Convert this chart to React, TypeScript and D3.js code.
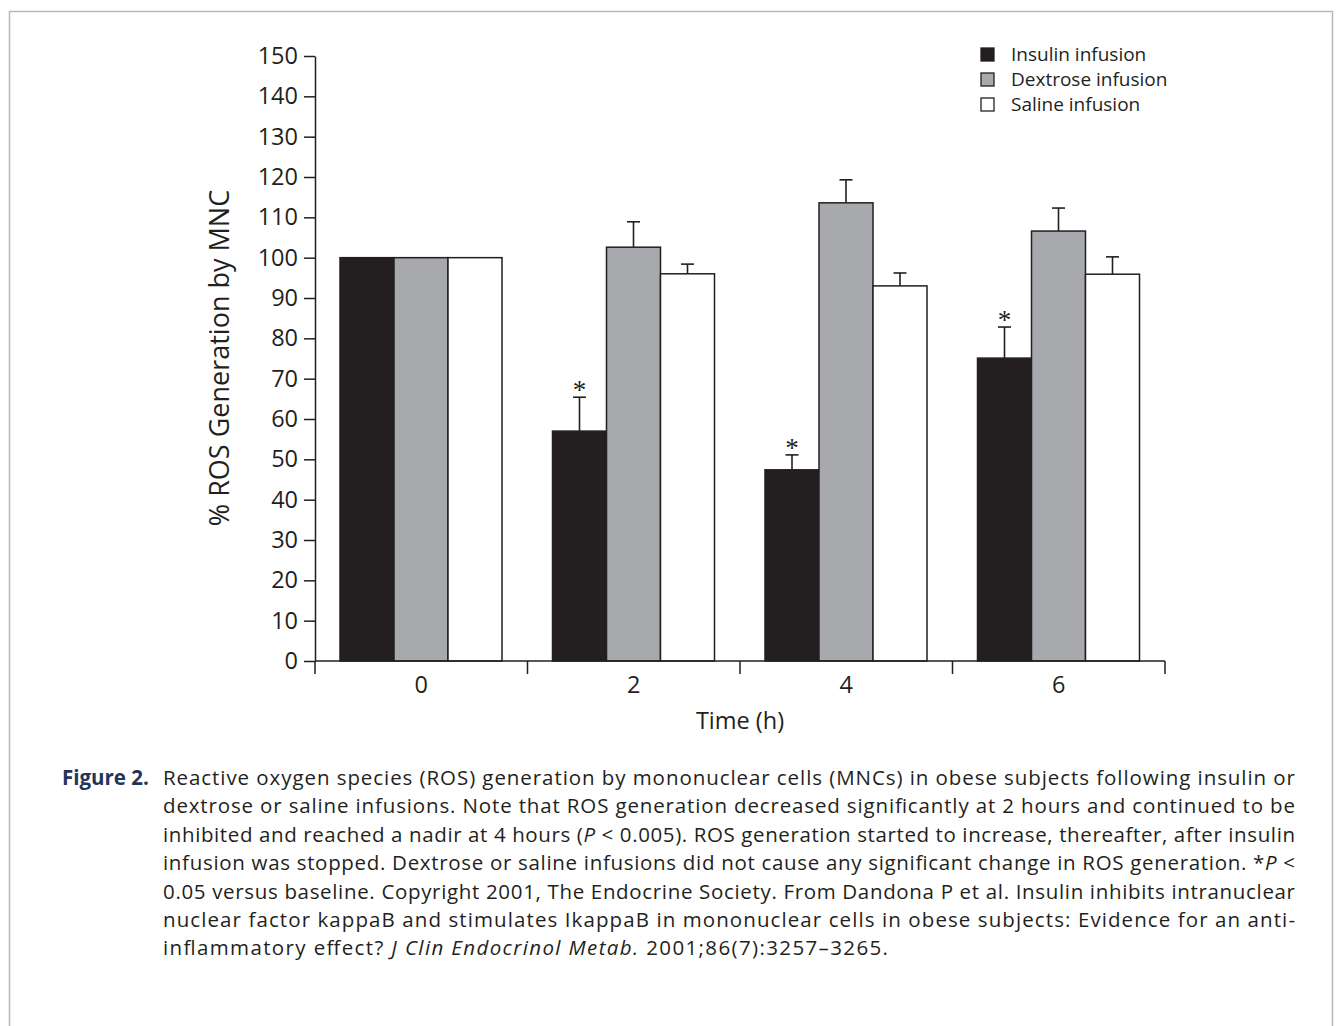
import React, { useEffect, useRef } from "react";
import * as d3 from "d3";

// values
const times = ["0", "2", "4", "6"];
const seriesNames = ["Insulin infusion", "Dextrose infusion", "Saline infusion"];
const insulin = [100, 57, 47.4, 75.1];
const insulinErr = [0, 8.4, 3.7, 7.7];
const dextrose = [100, 102.6, 113.6, 106.6];
const dextroseErr = [0, 6.3, 5.7, 5.7];
const saline = [100, 96, 93, 95.9];
const salineErr = [0, 2.4, 3.2, 4.3];
const insulinSig = [false, true, true, true];
const yTicks = d3.range(0, 151, 10);

const fills = ["#231f20", "#a7a9ac", "#ffffff"];
const ink = "#231f20";
const font = "'Open Sans', 'Noto Sans', sans-serif";

const captionLines = [
  [{ t: "Reactive oxygen species (ROS) generation by mononuclear cells (MNCs) in obese subjects following insulin or" }],
  [{ t: "dextrose or saline infusions. Note that ROS generation decreased significantly at 2 hours and continued to be" }],
  [
    { t: "inhibited and reached a nadir at 4 hours (" },
    { t: "P", i: true },
    { t: " < 0.005). ROS generation started to increase, thereafter, after insulin" },
  ],
  [
    { t: "infusion was stopped. Dextrose or saline infusions did not cause any significant change in ROS generation. *" },
    { t: "P", i: true },
    { t: " <" },
  ],
  [{ t: "0.05 versus baseline. Copyright 2001, The Endocrine Society. From Dandona P et al. Insulin inhibits intranuclear" }],
  [{ t: "nuclear factor kappaB and stimulates IkappaB in mononuclear cells in obese subjects: Evidence for an anti-" }],
  [
    { t: "inflammatory effect? " },
    { t: "J Clin Endocrinol Metab.", i: true },
    { t: " 2001;86(7):3257–3265." },
  ],
];
// justified line widths (last line is ragged)
const captionWidths = [1132, 1132, 1132, 1132, 1132, 1132, 725];

const W = 1337;
const H = 1026;

const App = () => {
  const svgRef = useRef<SVGSVGElement>(null);

  useEffect(() => {
    const svg = d3.select(svgRef.current);
    svg.selectAll("*").remove();

    // frame around figure
    svg.append("rect")
      .attr("x", 9.5).attr("y", 11.5)
      .attr("width", 1323).attr("height", 1030)
      .attr("fill", "none").attr("stroke", "#b8b8b8").attr("stroke-width", 1.5);

    const y = d3.scaleLinear().domain([0, 150]).range([661, 56]);
    const x0 = d3.scaleBand().domain(times).range([315, 1165]).padding(0);
    const x1 = d3.scaleBand().domain(seriesNames).range([25, 187]).padding(0);

    const values = [insulin, dextrose, saline];
    const errs = [insulinErr, dextroseErr, salineErr];

    const rows = times.flatMap((t, i) =>
      seriesNames.map((s, k) => ({ t, s, k, v: values[k][i], e: errs[k][i], sig: k === 0 && insulinSig[i] }))
    );
    const cx = (d: any) => x0(d.t)! + x1(d.s)! + x1.bandwidth() / 2;

    const g = svg.append("g");

    // error bars (upper only)
    const eb = g.selectAll("g.err").data(rows.filter(d => d.e > 0)).enter().append("g")
      .attr("stroke", ink).attr("stroke-width", 1.6);
    eb.append("line")
      .attr("x1", cx).attr("x2", cx)
      .attr("y1", d => y(d.v)).attr("y2", d => y(d.v + d.e));
    eb.append("line")
      .attr("x1", d => cx(d) - 6.5).attr("x2", d => cx(d) + 6.5)
      .attr("y1", d => y(d.v + d.e)).attr("y2", d => y(d.v + d.e));

    g.selectAll("rect.bar").data(rows).enter().append("rect")
      .attr("x", d => x0(d.t)! + x1(d.s)!)
      .attr("y", d => y(d.v))
      .attr("width", x1.bandwidth())
      .attr("height", d => y(0) - y(d.v))
      .attr("fill", d => fills[d.k])
      .attr("stroke", ink).attr("stroke-width", 1.5);

    // significance marks
    g.selectAll("text.star").data(rows.filter(d => d.sig)).enter().append("text")
      .attr("x", cx)
      .attr("y", d => y(d.v + d.e) + 2)
      .attr("text-anchor", "middle")
      .attr("font-family", "'Liberation Serif', serif")
      .attr("font-size", 27)
      .attr("fill", ink)
      .text("*");

    // y axis
    const yAxis = svg.append("g").attr("transform", "translate(315,0)")
      .call(d3.axisLeft(y).tickValues(yTicks).tickSize(11).tickPadding(6).tickSizeOuter(0));
    yAxis.selectAll("text").attr("font-family", font).attr("font-size", 23.5).attr("fill", ink);
    yAxis.selectAll("line,path").attr("stroke", ink).attr("stroke-width", 1.5);

    // x axis: ticks at group boundaries, labels at centres
    const xb = svg.append("g");
    xb.append("line").attr("x1", 315).attr("x2", 1165).attr("y1", 661).attr("y2", 661)
      .attr("stroke", ink).attr("stroke-width", 1.5);
    const bounds = [...times.map(t => x0(t)!), x0.range()[1]];
    xb.selectAll("line.tk").data(bounds).enter().append("line")
      .attr("x1", d => d).attr("x2", d => d).attr("y1", 661).attr("y2", 674)
      .attr("stroke", ink).attr("stroke-width", 1.5);
    xb.selectAll("text").data(times).enter().append("text")
      .attr("x", d => x0(d)! + x0.bandwidth() / 2)
      .attr("y", 693)
      .attr("text-anchor", "middle")
      .attr("font-family", font).attr("font-size", 23.5).attr("fill", ink)
      .text(d => d);

    svg.append("text")
      .attr("x", 740).attr("y", 729)
      .attr("text-anchor", "middle")
      .attr("font-family", font).attr("font-size", 23.5).attr("fill", ink)
      .text("Time (h)");

    svg.append("text")
      .attr("transform", "translate(229,358) rotate(-90)")
      .attr("text-anchor", "middle")
      .attr("font-family", font).attr("font-size", 27).attr("fill", ink)
      .text("% ROS Generation by MNC");

    // legend
    const lg = svg.append("g").selectAll("g").data(seriesNames).enter().append("g")
      .attr("transform", (d, i) => `translate(981,${48 + i * 25})`);
    lg.append("rect").attr("width", 13).attr("height", 13)
      .attr("fill", (d, i) => fills[i]).attr("stroke", ink).attr("stroke-width", 1.3);
    lg.append("text").attr("x", 30).attr("y", 13)
      .attr("font-family", font).attr("font-size", 19).attr("fill", ink)
      .text(d => d);

    // caption
    svg.append("text")
      .attr("x", 62).attr("y", 785)
      .attr("font-family", font).attr("font-size", 20.5).attr("font-weight", "bold")
      .attr("fill", "#23365a")
      .text("Figure 2.");

    captionLines.forEach((parts, i) => {
      const tx = svg.append("text")
        .attr("x", 163).attr("y", 785 + i * 28.4)
        .attr("font-family", font).attr("font-size", 20.5).attr("fill", ink)
        .attr("textLength", captionWidths[i]).attr("lengthAdjust", "spacing");
      parts.forEach((p: any) => {
        tx.append("tspan").attr("font-style", p.i ? "italic" : "normal").text(p.t);
      });
    });
  }, []);

  return (
    <div style={{ position: "absolute", left: 0, top: 0 }}>
      <svg ref={svgRef} width={W} height={H} style={{ display: "block", background: "#fff" }} />
    </div>
  );
};

export default App;
